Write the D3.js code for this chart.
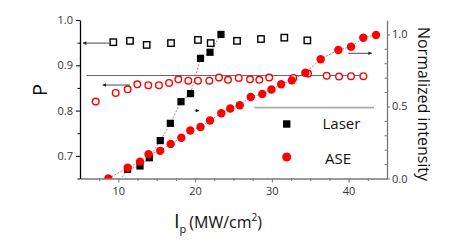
<!DOCTYPE html>
<html>
<head>
<meta charset="utf-8">
<script src="https://cdn.jsdelivr.net/npm/d3@7"></script>
<style>
  body { margin: 0; background: #fff; }
  text { font-family: "Open Sans", sans-serif; }
</style>
</head>
<body>
<svg id="chart" width="452" height="241"></svg>
<script>
// Laser: degree of polarization P (open squares, left axis)
const laserPI = [9.34, 11.51, 13.69, 16.86, 20.37, 22.03, 25.46, 28.58, 31.62, 34.62];
const laserP = [0.951, 0.954, 0.945, 0.949, 0.956, 0.949, 0.954, 0.958, 0.961, 0.955];

// Laser: normalized intensity (filled squares, right axis); first point sits below the axis
const laserNI = [10.0, 11.21, 12.82, 14.03, 15.46, 16.77, 18.16, 19.40, 20.70, 21.94, 23.37];
const laserN = [-0.03, 0.064, 0.087, 0.144, 0.263, 0.383, 0.533, 0.589, 0.834, 0.876, 1.0];

// ASE: degree of polarization P (open circles, left axis)
const asePI = [7.05, 9.65, 11.21, 12.47, 13.90, 15.29, 16.60, 17.81, 19.11, 20.37, 21.85, 23.11,
  24.28, 25.68, 27.15, 28.36, 29.65, 32.79, 34.71, 37.14, 38.75, 40.31, 41.92];
const aseP = [0.820, 0.839, 0.847, 0.858, 0.856, 0.856, 0.861, 0.869, 0.866, 0.866, 0.866, 0.873,
  0.868, 0.872, 0.869, 0.868, 0.873, 0.872, 0.882, 0.877, 0.875, 0.876, 0.876];

// ASE: normalized intensity (filled circles, right axis)
const aseNI = [8.69, 11.21, 12.82, 13.93, 15.45, 16.82, 18.20, 19.37, 20.70, 21.94, 23.41, 24.58,
  25.81, 27.25, 28.75, 29.95, 31.21, 32.60, 34.36, 36.36, 38.66, 40.31, 41.91, 43.57];
const aseN = [0.0, 0.075, 0.117, 0.169, 0.192, 0.240, 0.283, 0.333, 0.358, 0.403, 0.453, 0.486,
  0.508, 0.566, 0.587, 0.618, 0.654, 0.681, 0.734, 0.828, 0.892, 0.915, 0.977, 0.996];

// tick labels
const xTicks = [10, 20, 30, 40];
const pTicks = [0.7, 0.8, 0.9, 1.0];
const nTicks = [0.0, 0.5, 1.0];

// annotation lines and arrows  [I start, I end, value]
const pRefLine = [5.87, 42.1, 0.8774];
const nRefLine = [27.71, 43.3, 0.492];
const pArrows = [[8.8, 5.4, 0.949], [11.5, 7.96, 0.8564]];
const nArrows = [[39.96, 43.0, 0.869], [19.95, 20.5, 0.471]];

const legendItems = ["Laser", "ASE"];

const svg = d3.select("#chart");
const mLeft = 80, mRight = 387, mTop = 20, mBottom = 178.5;

const x = d3.scaleLinear().domain([5, 45]).range([mLeft, mRight]);
const yL = d3.scaleLinear().domain([0.65, 1.0]).range([mBottom, mTop]);
const yR = d3.scaleLinear().domain([0, 1.1]).range([mBottom, mTop]);

const defs = svg.append("defs");
defs.append("clipPath").attr("id", "plot")
  .append("rect").attr("x", mLeft).attr("y", mTop)
  .attr("width", mRight - mLeft).attr("height", mBottom - mTop);

defs.append("marker")
  .attr("id", "arrow").attr("viewBox", "0 0 10 10")
  .attr("refX", 9).attr("refY", 5)
  .attr("markerWidth", 5).attr("markerHeight", 4)
  .attr("orient", "auto")
  .append("path").attr("d", "M0,0L10,5L0,10Z").attr("fill", "#222");

// axes
function styleAxis(g, color) {
  g.select(".domain").attr("stroke", color).attr("stroke-width", 1.3);
  g.selectAll(".tick line").attr("stroke", color);
  g.selectAll(".tick text").attr("fill", "#333").style("font-size", "11px")
    .style("font-family", "'Open Sans', sans-serif");
}

const gx = svg.append("g").attr("transform", `translate(0,${mBottom})`)
  .call(d3.axisBottom(x).tickValues(xTicks).tickSize(4).tickPadding(5).tickSizeOuter(0));
styleAxis(gx, "#777");
svg.append("g").attr("transform", `translate(0,${mBottom})`)
  .call(d3.axisBottom(x).tickValues(d3.range(7.5, 45, 2.5).filter(d => d % 10 !== 0))
    .tickSize(2.5).tickFormat("").tickSizeOuter(0))
  .call(g => { g.select(".domain").remove(); g.selectAll("line").attr("stroke", "#777"); });

const gl = svg.append("g").attr("transform", `translate(${mLeft},0)`)
  .call(d3.axisLeft(yL).tickValues(pTicks).tickFormat(d3.format(".1f"))
    .tickSize(4).tickPadding(3).tickSizeOuter(0));
styleAxis(gl, "#000");
svg.append("g").attr("transform", `translate(${mLeft},0)`)
  .call(d3.axisLeft(yL).tickValues([0.65, 0.75, 0.85, 0.95]).tickSize(2.5).tickFormat("").tickSizeOuter(0))
  .call(g => { g.select(".domain").remove(); g.selectAll("line").attr("stroke", "#000"); });

const gr = svg.append("g").attr("transform", `translate(${mRight},0)`)
  .call(d3.axisRight(yR).tickValues(nTicks).tickFormat(d3.format(".1f"))
    .tickSize(3).tickPadding(2).tickSizeOuter(0));
styleAxis(gr, "#777");
svg.append("g").attr("transform", `translate(${mRight},0)`)
  .call(d3.axisLeft(yR).tickValues([0.1, 0.2, 0.3, 0.4, 0.6, 0.7, 0.8, 0.9]).tickSize(2.5).tickFormat("").tickSizeOuter(0))
  .call(g => { g.select(".domain").remove(); g.selectAll("line").attr("stroke", "#777"); });

// axis titles
svg.append("text")
  .attr("transform", "translate(47,90) rotate(-90)")
  .attr("text-anchor", "middle").style("font-size", "20px").attr("fill", "#111")
  .text("P");

svg.append("text")
  .attr("transform", "translate(418,104) rotate(90)")
  .attr("text-anchor", "middle").style("font-size", "16px").attr("fill", "#111")
  .text("Normalized intensity");

const xt = svg.append("text").attr("x", 174).attr("y", 228).attr("fill", "#111");
xt.append("tspan").style("font-size", "20px").text("I");
xt.append("tspan").style("font-size", "11px").attr("dy", 5).text("p");
xt.append("tspan").style("font-size", "16px").attr("dy", -5).attr("dx", 3).text("(MW/cm");
xt.append("tspan").style("font-size", "10px").attr("dy", -7).text("2");
xt.append("tspan").style("font-size", "16px").attr("dy", 7).text(")");

// plot area
const plot = svg.append("g").attr("clip-path", "url(#plot)");

plot.append("line")
  .attr("x1", x(pRefLine[0])).attr("x2", x(pRefLine[1]))
  .attr("y1", yL(pRefLine[2])).attr("y2", yL(pRefLine[2]))
  .attr("stroke", "#666").attr("stroke-width", 1);
svg.append("line")
  .attr("x1", x(nRefLine[0])).attr("x2", x(nRefLine[1]))
  .attr("y1", yR(nRefLine[2])).attr("y2", yR(nRefLine[2]))
  .attr("stroke", "#aaa").attr("stroke-width", 1.8);

const lineN = d3.line().x(d => x(d[0])).y(d => yR(d[1]));
plot.append("path").datum(d3.zip(laserNI, laserN))
  .attr("d", lineN).attr("fill", "none")
  .attr("stroke", "#777").attr("stroke-width", 0.8).attr("stroke-dasharray", "2,1.5");
plot.append("path").datum(d3.zip(aseNI, aseN))
  .attr("d", lineN).attr("fill", "none")
  .attr("stroke", "#777").attr("stroke-width", 0.8).attr("stroke-dasharray", "2,1.5");

// arrows
svg.selectAll(".pArrow").data(pArrows).enter().append("line")
  .attr("x1", d => x(d[0])).attr("x2", d => x(d[1]))
  .attr("y1", d => yL(d[2])).attr("y2", d => yL(d[2]))
  .attr("stroke", "#333").attr("stroke-width", 0.9).attr("marker-end", "url(#arrow)");
svg.selectAll(".nArrow").data(nArrows).enter().append("line")
  .attr("x1", d => x(d[0])).attr("x2", d => x(d[1]))
  .attr("y1", d => yR(d[2])).attr("y2", d => yR(d[2]))
  .attr("stroke", "#333").attr("stroke-width", 0.9).attr("marker-end", "url(#arrow)");

// open markers (P)
plot.selectAll(".aseP").data(d3.zip(asePI, aseP)).enter().append("circle")
  .attr("cx", d => x(d[0])).attr("cy", d => yL(d[1])).attr("r", 3.3)
  .attr("fill", "#fff").attr("stroke", "#ff0000").attr("stroke-width", 1.4);
plot.selectAll(".laserP").data(d3.zip(laserPI, laserP)).enter().append("rect")
  .attr("x", d => x(d[0]) - 3.2).attr("y", d => yL(d[1]) - 3.2)
  .attr("width", 6.4).attr("height", 6.4)
  .attr("fill", "#fff").attr("stroke", "#000").attr("stroke-width", 1.4);

// filled markers (normalized intensity)
plot.selectAll(".laserN").data(d3.zip(laserNI, laserN)).enter().append("rect")
  .attr("x", d => x(d[0]) - 3.6).attr("y", d => yR(d[1]) - 3.6)
  .attr("width", 7.2).attr("height", 7.2).attr("fill", "#000");
plot.selectAll(".aseN").data(d3.zip(aseNI, aseN)).enter().append("circle")
  .attr("cx", d => x(d[0])).attr("cy", d => yR(d[1])).attr("r", 4.2)
  .attr("fill", "#ff0000");

// legend
const lg = svg.append("g");
lg.append("rect").attr("x", 283).attr("y", 120.3).attr("width", 7.4).attr("height", 7.4).attr("fill", "#000");
lg.append("circle").attr("cx", 286.7).attr("cy", 157).attr("r", 4.5).attr("fill", "#ff0000");
lg.selectAll("text").data(legendItems).enter().append("text")
  .attr("x", (d, i) => i === 0 ? 322.5 : 325)
  .attr("y", (d, i) => i === 0 ? 129 : 163.5)
  .style("font-size", "15px").attr("fill", "#111")
  .text(d => d);
</script>
</body>
</html>
